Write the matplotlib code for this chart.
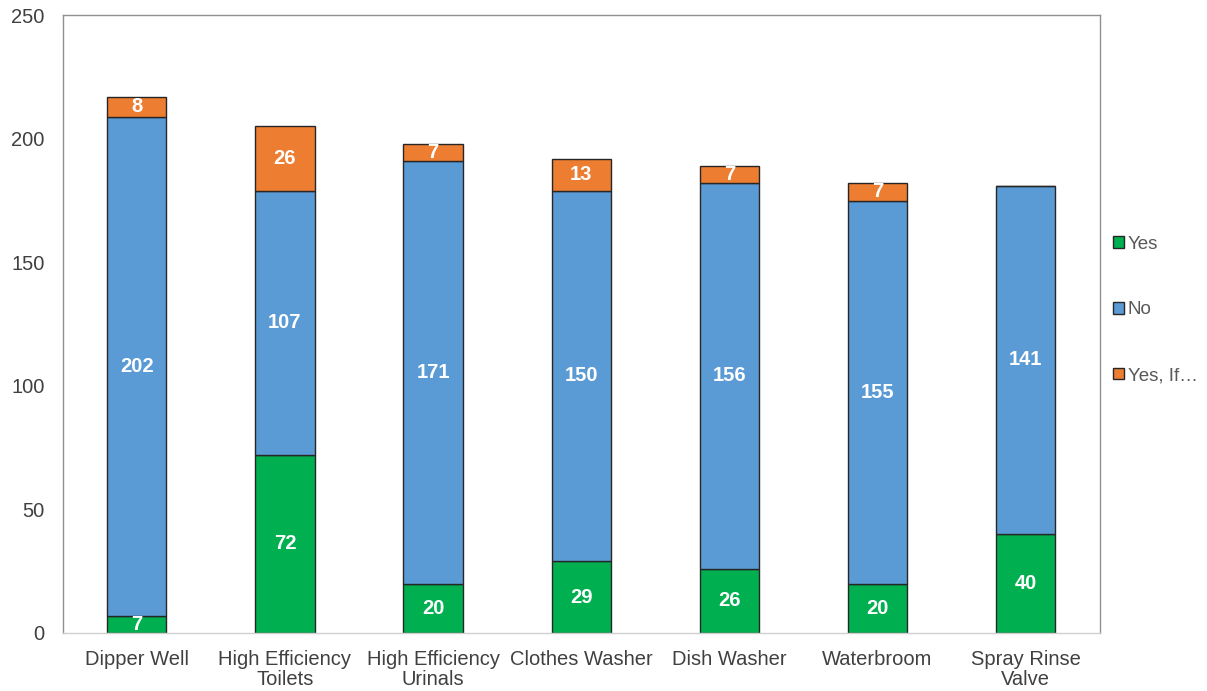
import matplotlib.pyplot as plt
import numpy as np

plt.rcParams['font.family'] = ['Liberation Sans', 'DejaVu Sans']

categories = ["Dipper Well", "High Efficiency\nToilets", "High Efficiency\nUrinals",
              "Clothes Washer", "Dish Washer", "Waterbroom", "Spray Rinse\nValve"]
yes = [7, 72, 20, 29, 26, 20, 40]
no = [202, 107, 171, 150, 156, 155, 141]
yes_if = [8, 26, 7, 13, 7, 7, 0]

series = [("Yes", yes, "#00B050"), ("No", no, "#5B9BD5"), ("Yes, If…", yes_if, "#ED7D31")]

fig = plt.figure(figsize=(12.07, 6.91), dpi=100)
ax = fig.add_axes([0.052, 0.084, 0.859, 0.894])

x = np.arange(len(categories))
bottom = np.zeros(len(categories))
for name, vals, col in series:
    vals = np.array(vals)
    ax.bar(x, vals, 0.4, bottom=bottom, color=col, edgecolor="#262626",
           linewidth=1.0, label=name)
    for xi, b, v in zip(x, bottom, vals):
        if v > 0:
            ax.text(xi, b + v / 2, str(v), ha="center", va="center",
                    color="white", fontsize=14.5, fontweight="bold")
    bottom += vals

ax.set_xlim(-0.5, 6.5)
ax.set_ylim(0, 250)
ax.set_yticks([0, 50, 100, 150, 200, 250])
ax.set_xticks(x)
ax.set_xticklabels(categories, fontsize=14.5, color="#404040", linespacing=1.1)
ax.tick_params(axis="y", labelsize=14.5, colors="#404040", length=0, pad=13)
ax.tick_params(axis="x", length=0, pad=12)
for s in ax.spines.values():
    s.set_color("#909090")
    s.set_linewidth(1.0)
ax.spines["bottom"].set_color("#d0d0d0")

ax.legend(loc="center left", bbox_to_anchor=(1.0, 0.523), frameon=False,
          fontsize=13.5, handlelength=0.6, handleheight=0.6, handletextpad=0.2,
          labelspacing=2.6, labelcolor="#595959", borderaxespad=0.3)

plt.savefig("out.png", dpi=100)
